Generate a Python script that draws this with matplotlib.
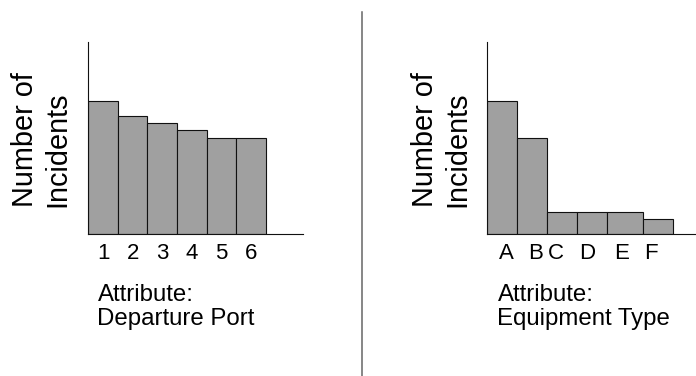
import matplotlib
matplotlib.use("Agg")
import matplotlib.pyplot as plt
from matplotlib.lines import Line2D
import numpy as np

plt.rcParams['font.family'] = ['Liberation Sans', 'DejaVu Sans']

# ---- data ----
port_labels = ["1", "2", "3", "4", "5", "6"]
port_counts = [18, 16, 15, 14, 13, 13]

equip_labels = ["A", "B", "C", "D", "E", "F"]
equip_counts = [18, 13, 3, 3, 3, 2]

# ---- layout (not data) ----
W, H = 696, 376
equip_widths = [1, 1, 0.98, 1, 1.22, 1]
equip_label_pos = [0.647, 1.62, 2.27, 3.34, 4.49, 5.447]

fig = plt.figure(figsize=(W / 100, H / 100), dpi=100)

def px_axes(x0, x1, ytop, ybot):
    return fig.add_axes([x0 / W, (H - ybot) / H, (x1 - x0) / W, (ybot - ytop) / H])

bar_color = "#a0a0a0"
ymax = 26

def style(ax):
    for s in ("top", "right"):
        ax.spines[s].set_visible(False)
    for s in ("left", "bottom"):
        ax.spines[s].set_linewidth(0.8)
        ax.spines[s].set_color("#111111")
    ax.set_yticks([])
    ax.tick_params(axis="x", length=0, pad=6.5, labelsize=16)
    ax.set_ylim(0, ymax)
    ax.patch.set_visible(False)

# left chart
ax1 = px_axes(88.3, 303, 41.7, 234)
x1 = np.arange(len(port_counts))
ax1.bar(x1, port_counts, width=1, align="edge", color=bar_color,
        edgecolor="#111111", linewidth=0.8)
ax1.set_xlim(0, (303 - 88.3) / 29.58)
ax1.set_xticks(x1 + 0.5)
ax1.set_xticklabels(port_labels)
style(ax1)

# right chart
ax2 = px_axes(487.3, 696, 41.7, 234)
lefts = np.concatenate([[0], np.cumsum(equip_widths)[:-1]])
ax2.bar(lefts, equip_counts, width=equip_widths, align="edge", color=bar_color,
        edgecolor="#111111", linewidth=0.8)
ax2.set_xlim(0, (696 - 487.3) / 30)
ax2.set_xticks(equip_label_pos)
ax2.set_xticklabels(equip_labels)
style(ax2)

# y labels
for xoff in (11, 411):
    fig.text(xoff / W, (H - 207) / H, "Number of\nIncidents", rotation=90,
             ha="left", va="bottom", fontsize=20.8, multialignment="left",
             linespacing=1.2)

# attribute captions
fig.text(97.5 / W, (H - 284) / H, "Attribute:\nDeparture Port", ha="left",
         va="top", fontsize=17.3, linespacing=1.13)
fig.text(497.5 / W, (H - 284) / H, "Attribute:\nEquipment Type", ha="left",
         va="top", fontsize=17.3, linespacing=1.13)

# divider
fig.add_artist(Line2D([361.7 / W, 361.7 / W], [0, (H - 12) / H],
                      transform=fig.transFigure, color="#666666", linewidth=1.1))

fig.savefig("out.png", dpi=100)
